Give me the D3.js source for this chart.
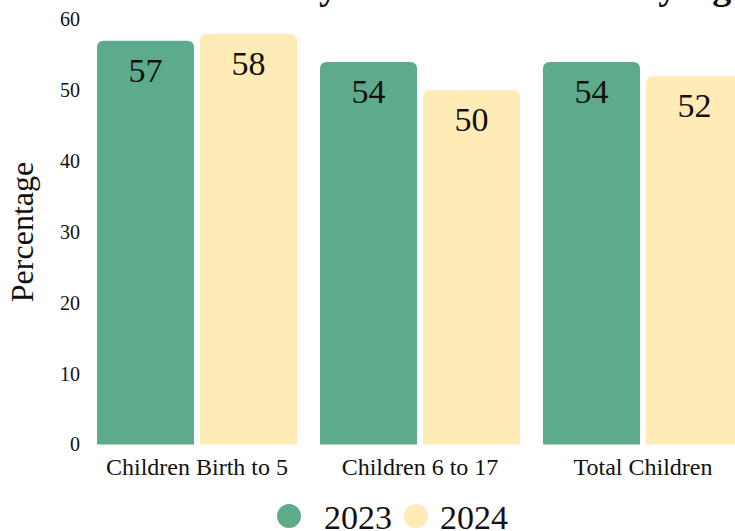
<!DOCTYPE html>
<html>
<head>
<meta charset="utf-8">
<script src="https://cdn.jsdelivr.net/npm/d3@7"></script>
<style>
  body { margin: 0; background: #fff; }
  text { font-family: "Liberation Serif", "DejaVu Serif", serif; fill: #111; }
</style>
</head>
<body>
<svg id="chart" width="735" height="531"></svg>
<script>
var categories = ["Children Birth to 5", "Children 6 to 17", "Total Children"]
var years = ["2023", "2024"]
var values2023 = [57, 54, 54]
var values2024 = [58, 50, 52]
var yTicks = [0, 10, 20, 30, 40, 50, 60]
var colors = ["#5eab8b", "#ffebb6"]

var rows = categories.map((c, i) => ({ cat: c, vals: [values2023[i], values2024[i]] }))

var svg = d3.select("#chart")

var x0 = d3.scaleBand()
  .domain(categories)
  .range([97, 743])
  .paddingInner(23 / 223)
  .paddingOuter(0)

var x1 = d3.scaleBand()
  .domain(years)
  .range([0, x0.bandwidth()])
  .paddingInner(0.058)

var y = d3.scaleLinear()
  .domain([0, 60])
  .range([444.5, 19.5])

// title, mostly cropped off the top
svg.append("text")
  .attr("x", 748)
  .attr("y", -1)
  .attr("text-anchor", "end")
  .style("font-size", "38px")
  .style("font-weight", "bold")
  .text("Family Read to Children by Age")

// y axis (labels only)
var yAxis = d3.axisLeft(y).tickValues(yTicks).tickSize(0).tickPadding(0)
var gy = svg.append("g")
  .attr("transform", "translate(80,0)")
  .call(yAxis)
gy.select(".domain").remove()
gy.selectAll("text")
  .style("font-family", "Liberation Serif, serif")
  .style("font-size", "20px")
  .attr("fill", "#222")

svg.append("text")
  .attr("transform", "translate(33,232) rotate(-90)")
  .attr("text-anchor", "middle")
  .style("font-size", "32px")
  .text("Percentage")

// bars
function topRounded(x, yTop, w, h, r) {
  return `M${x},${yTop + h} V${yTop + r} Q${x},${yTop} ${x + r},${yTop} H${x + w - r} Q${x + w},${yTop} ${x + w},${yTop + r} V${yTop + h} Z`
}

var groups = svg.selectAll("g.grp")
  .data(rows)
  .enter()
  .append("g")
  .attr("class", "grp")
  .attr("transform", d => `translate(${x0(d.cat)},0)`)

groups.selectAll("path")
  .data(d => d.vals.map((v, i) => ({ year: years[i], v: v, i: i })))
  .enter()
  .append("path")
  .attr("d", d => topRounded(x1(d.year), y(d.v), x1.bandwidth(), y(0) - y(d.v), 7))
  .attr("fill", d => colors[d.i])

groups.selectAll("text.val")
  .data(d => d.vals.map((v, i) => ({ year: years[i], v: v })))
  .enter()
  .append("text")
  .attr("class", "val")
  .attr("x", d => x1(d.year) + x1.bandwidth() / 2)
  .attr("y", d => y(d.v) + 41)
  .attr("text-anchor", "middle")
  .style("font-size", "34px")
  .text(d => d.v)

// x axis labels
var xAxis = d3.axisBottom(x0).tickSize(0).tickPadding(0)
var gx = svg.append("g")
  .attr("transform", "translate(0,475)")
  .call(xAxis)
gx.select(".domain").remove()
gx.selectAll("text")
  .style("font-family", "Liberation Serif, serif")
  .style("font-size", "24px")
  .attr("fill", "#111")
  .attr("dy", "0")

// legend
var legend = svg.append("g")
var lx = [289, 416]
var tx = [324, 440]
years.forEach((yr, i) => {
  legend.append("circle")
    .attr("cx", lx[i])
    .attr("cy", 516)
    .attr("r", 12)
    .attr("fill", colors[i])
  legend.append("text")
    .attr("x", tx[i])
    .attr("y", 529)
    .style("font-size", "34px")
    .text(yr)
})
</script>
</body>
</html>
